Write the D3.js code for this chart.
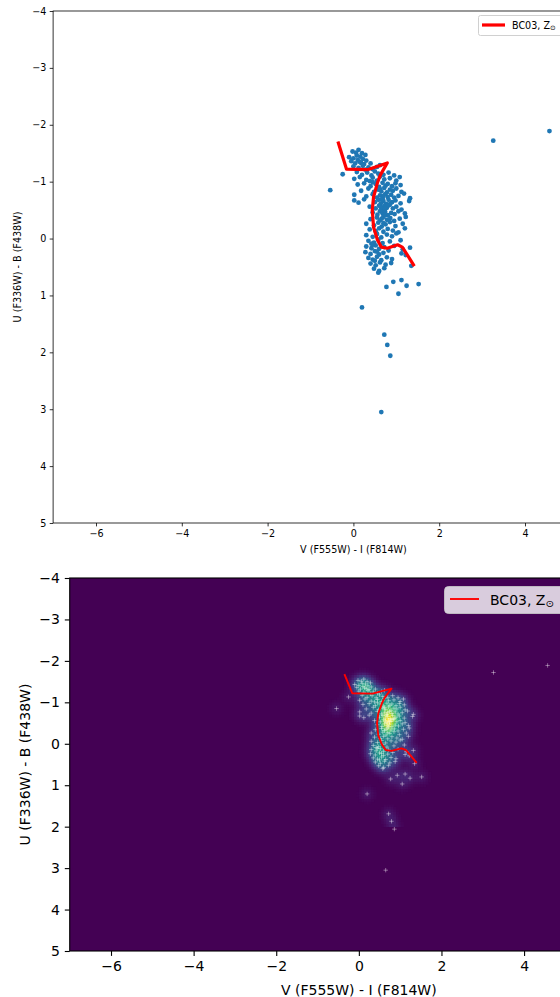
<!DOCTYPE html>
<html>
<head>
<meta charset="utf-8">
<script src="https://cdn.jsdelivr.net/npm/d3@7"></script>
<style>
  body { margin: 0; background: #fff; }
  svg { display: block; font-family: "DejaVu Sans", sans-serif; }
</style>
</head>
<body>
<svg id="chart" width="560" height="997"></svg>
<script>
// Axis ranges and ticks (U-B axis is inverted: blue at top)
const xDomain = [-7, 7];
const yDomain = [-4, 5];
const xTicks = [-6, -4, -2, 0, 2, 4];
const yTicks = [-4, -3, -2, -1, 0, 1, 2, 3, 4, 5];
const xLabel = "V (F555W) - I (F814W)";
const yLabel = "U (F336W) - B (F438W)";

// Star cluster colours: V-I and U-B
const viColour = [
  -0.02, 0.12, 0.20, 0.06,
  -0.10, 0.08, 0.16, 0.28, 0.00, 0.22,
  -0.05, 0.10, 0.18, 0.30, 0.40, 0.25, 0.04, 0.14,
  0.00, 0.12, 0.22, 0.35, 0.45, 0.55, 0.28, 0.62,
  -0.25, 0.08, 0.20, 0.32, 0.42, 0.50, 0.58, 0.70, 0.82, 0.95,
  0.02, 0.15, 0.30, 0.45, 0.55, 0.62, 0.72, 0.85, 1.00, 1.08, 0.38,
  0.10, 0.25, 0.40, 0.52, 0.60, 0.68, 0.75, 0.80, 0.90, 0.98, 1.10, 0.45,
  -0.54, 0.18, 0.35, 0.48, 0.58, 0.65, 0.72, 0.78, 0.85, 0.92, 1.00, 1.12, 0.62,
  0.02, 0.30, 0.45, 0.55, 0.62, 0.68, 0.74, 0.80, 0.88, 0.95, 1.05, 1.18, 1.32, 0.70,
  0.02, 0.12, 0.25, 0.50, 0.58, 0.64, 0.70, 0.76, 0.82, 0.90, 0.98, 1.10, 1.30, 0.66, 0.86,
  0.38, 0.52, 0.60, 0.66, 0.72, 0.78, 0.84, 0.92, 1.00, 1.12, 0.70, 0.80, 0.64, 0.74,
  0.45, 0.56, 0.62, 0.68, 0.74, 0.80, 0.88, 0.96, 1.05, 1.20, 0.72,
  0.40, 0.55, 0.62, 0.70, 0.78, 0.86, 0.95, 1.08, 1.22, 0.66,
  0.30, 0.48, 0.58, 0.66, 0.75, 0.85, 0.98, 1.15, 0.70,
  0.38, 0.52, 0.60, 0.70, 0.80, 0.92, 1.05, 1.20,
  0.30, 0.45, 0.55, 0.65, 0.78, 0.90, 1.00,
  0.35, 0.48, 0.58, 0.68, 0.85, 1.10, 0.42,
  0.30, 0.42, 0.52, 0.60, 0.72, 0.95, 1.15, 1.32, 0.45,
  0.28, 0.40, 0.50, 0.60, 0.70, 0.82, 1.12, 1.22, 0.55,
  0.35, 0.45, 0.55, 0.65, 0.78, 0.90, 0.50,
  0.40, 0.52, 0.62, 0.75, 0.88, 1.35,
  0.48, 0.60, 0.72,
  0.58, 0.77, 0.93, 1.12, 1.24, 1.05, 1.52, 0.20, 0.72, 0.79, 0.86, 0.65, 3.26, 4.57
];
const ubColour = [
  -1.53, -1.56, -1.50, -1.51,
  -1.43, -1.46, -1.44, -1.47, -1.41, -1.40,
  -1.36, -1.38, -1.33, -1.37, -1.32, -1.31, -1.32, -1.35,
  -1.27, -1.24, -1.28, -1.25, -1.22, -1.26, -1.21, -1.29,
  -1.13, -1.17, -1.12, -1.16, -1.11, -1.18, -1.14, -1.12, -1.16, -1.11,
  -1.05, -1.08, -1.03, -1.07, -1.02, -1.09, -1.04, -1.06, -1.02, -1.08, -1.01,
  -0.95, -0.97, -0.92, -0.96, -0.91, -0.98, -0.93, -0.96, -0.92, -0.97, -0.94, -0.99,
  -0.85, -0.84, -0.88, -0.82, -0.86, -0.83, -0.89, -0.81, -0.86, -0.84, -0.88, -0.82, -0.87,
  -0.77, -0.74, -0.78, -0.72, -0.76, -0.71, -0.78, -0.73, -0.77, -0.72, -0.75, -0.79, -0.71, -0.75,
  -0.67, -0.63, -0.69, -0.64, -0.68, -0.62, -0.66, -0.61, -0.68, -0.64, -0.67, -0.62, -0.66, -0.69, -0.61,
  -0.56, -0.53, -0.58, -0.52, -0.57, -0.54, -0.59, -0.53, -0.56, -0.51, -0.50, -0.58, -0.55, -0.53,
  -0.46, -0.42, -0.48, -0.44, -0.47, -0.41, -0.45, -0.43, -0.48, -0.44, -0.41,
  -0.34, -0.37, -0.32, -0.38, -0.33, -0.36, -0.31, -0.35, -0.38, -0.35,
  -0.26, -0.23, -0.28, -0.21, -0.25, -0.29, -0.22, -0.26, -0.27,
  -0.16, -0.13, -0.18, -0.12, -0.17, -0.14, -0.11, -0.18,
  -0.06, -0.03, -0.08, -0.02, -0.07, -0.04, -0.09,
  0.04, 0.07, 0.02, 0.08, 0.05, 0.03, 0.09,
  0.14, 0.17, 0.12, 0.18, 0.15, 0.13, 0.19, 0.16, 0.11,
  0.24, 0.27, 0.22, 0.28, 0.25, 0.21, 0.26, 0.29, 0.23,
  0.34, 0.37, 0.32, 0.38, 0.33, 0.36, 0.39,
  0.44, 0.47, 0.42, 0.46, 0.43, 0.48,
  0.53, 0.57, 0.52,
  0.60, 0.85, 0.76, 0.73, 0.83, 0.97, 0.80, 1.21, 1.69, 1.87, 2.06, 3.05, -1.72, -1.89
];

// BC03 solar-metallicity evolutionary track
const trackVI = [-0.35, -0.16, 0.33, 0.79, 0.63, 0.56, 0.47, 0.44, 0.47, 0.56, 0.65, 0.79, 1.03, 1.14, 1.26, 1.40];
const trackUB = [-1.68, -1.22, -1.21, -1.33, -1.12, -0.98, -0.73, -0.50, -0.20, 0.02, 0.15, 0.17, 0.11, 0.15, 0.29, 0.46];
const legendText = "BC03, Z";
const legendSub = "\u2299";

const clusters = viColour.map((v, i) => ({ vi: v, ub: ubColour[i] }));
const track = trackVI.map((v, i) => ({ vi: v, ub: trackUB[i] }));

const svg = d3.select("#chart");
const fmt = d3.format("d");

function panel(cfg) {
  const xs = d3.scaleLinear().domain(xDomain).range([cfg.left, cfg.right]);
  const ys = d3.scaleLinear().domain(yDomain).range([cfg.top, cfg.bottom]);
  const g = svg.append("g");
  const clipId = "clip" + cfg.id;
  g.append("clipPath").attr("id", clipId).append("rect")
    .attr("x", cfg.left).attr("y", cfg.top)
    .attr("width", cfg.right - cfg.left).attr("height", cfg.bottom - cfg.top);
  const plot = g.append("g").attr("clip-path", `url(#${clipId})`);
  return { xs, ys, g, plot };
}

function axes(p, cfg) {
  const { xs, ys, g } = p;
  const ax = g.append("g").attr("transform", `translate(0,${cfg.bottom})`)
    .call(d3.axisBottom(xs).tickValues(xTicks).tickFormat(fmt)
      .tickSize(cfg.tick).tickPadding(cfg.pad));
  const ay = g.append("g").attr("transform", `translate(${cfg.left},0)`)
    .call(d3.axisLeft(ys).tickValues(yTicks).tickFormat(fmt)
      .tickSize(cfg.tick).tickPadding(cfg.pad));
  [ax, ay].forEach(a => {
    a.select(".domain").remove();
    a.selectAll("line").attr("stroke", "#000").attr("stroke-width", cfg.lw);
    a.selectAll("text").attr("fill", "#000").style("font-size", cfg.font + "px")
      .style("font-family", "DejaVu Sans, sans-serif");
  });
  g.append("rect").attr("x", cfg.left).attr("y", cfg.top)
    .attr("width", cfg.right - cfg.left).attr("height", cfg.bottom - cfg.top)
    .attr("fill", "none").attr("stroke", "#000").attr("stroke-width", cfg.lw);
  g.append("text").attr("x", (cfg.left + cfg.right) / 2).attr("y", cfg.xLabelY)
    .attr("text-anchor", "middle").style("font-size", cfg.font + "px").text(xLabel);
  g.append("text")
    .attr("transform", `translate(${cfg.yLabelX},${(cfg.top + cfg.bottom) / 2}) rotate(-90)`)
    .attr("text-anchor", "middle").style("font-size", cfg.font + "px").text(yLabel);
}

function legend(cfg, lg) {
  const g = svg.append("g");
  g.append("rect").attr("x", lg.x).attr("y", lg.y).attr("width", lg.w).attr("height", lg.h)
    .attr("rx", lg.r).attr("fill", lg.fill).attr("stroke", lg.stroke).attr("stroke-width", 1);
  g.append("line").attr("x1", lg.lx0).attr("x2", lg.lx1).attr("y1", lg.ly).attr("y2", lg.ly)
    .attr("stroke", "red").attr("stroke-width", lg.lw);
  const t = g.append("text").attr("x", lg.tx).attr("y", lg.ty)
    .style("font-size", cfg.font + "px").attr("fill", "#000");
  t.append("tspan").text(legendText);
  t.append("tspan").attr("dy", "0.22em").style("font-size", (cfg.font * 0.7) + "px").text(legendSub);
}

const line = (p) => d3.line().x(d => p.xs(d.vi)).y(d => p.ys(d.ub));

// ---------- Upper panel: scatter + track ----------
const topCfg = { id: "A", left: 53.1, right: 653.7, top: 11, bottom: 523,
  font: 9.6, tick: 3.4, pad: 3.4, lw: 0.8, xLabelY: 553, yLabelX: 21 };
const pA = panel(topCfg);
pA.plot.selectAll("circle").data(clusters).join("circle")
  .attr("cx", d => pA.xs(d.vi)).attr("cy", d => pA.ys(d.ub)).attr("r", 2.4)
  .attr("fill", "#1f77b4");
pA.plot.append("path").datum(track).attr("d", line(pA))
  .attr("fill", "none").attr("stroke", "red").attr("stroke-width", 3.2)
  .attr("stroke-linejoin", "round").attr("stroke-linecap", "square");
axes(pA, topCfg);
legend(topCfg, { x: 478.5, y: 15.5, w: 120, h: 20, r: 2, fill: "#fff", stroke: "#d0d0d0",
  lx0: 482, lx1: 505, ly: 25, lw: 3.2, tx: 512, ty: 29 });

// ---------- Lower panel: kernel density map ----------
const botCfg = { id: "B", left: 69.7, right: 648, top: 578, bottom: 951,
  font: 14, tick: 4.9, pad: 4.9, lw: 1.1, xLabelY: 995, yLabelX: 30 };
const pB = panel(botCfg);
pB.plot.append("rect").attr("x", botCfg.left).attr("y", botCfg.top)
  .attr("width", botCfg.right - botCfg.left).attr("height", botCfg.bottom - botCfg.top)
  .attr("fill", d3.interpolateViridis(0));

// Gaussian KDE evaluated on a regular grid
const bw = 0.11, cell = 0.06;
const gx0 = -1.5, gy0 = -2.5, nx = 70, ny = 75;
const cells = [];
for (let i = 0; i < nx; i++) {
  for (let j = 0; j < ny; j++) {
    const x0 = gx0 + i * cell, y0 = gy0 + j * cell;
    const cx = x0 + cell / 2, cy = y0 + cell / 2;
    let s = 0;
    for (const c of clusters) {
      const dx = (cx - c.vi) / bw, dy = (cy - c.ub) / bw;
      s += Math.exp(-0.5 * (dx * dx + dy * dy));
    }
    cells.push({ x0, y0, s });
  }
}
const sMax = d3.max(cells, d => d.s);
const colour = d3.scaleSequential(d3.interpolateViridis).domain([0, sMax]);
pB.plot.append("g").selectAll("rect").data(cells.filter(d => d.s / sMax > 0.006)).join("rect")
  .attr("x", d => pB.xs(d.x0)).attr("y", d => pB.ys(d.y0))
  .attr("width", d => pB.xs(d.x0 + cell) - pB.xs(d.x0) + 0.4)
  .attr("height", d => pB.ys(d.y0 + cell) - pB.ys(d.y0) + 0.4)
  .attr("fill", d => colour(d.s));

// cluster positions as plus markers
const arm = 2.2;
pB.plot.append("g").selectAll("path").data(clusters).join("path")
  .attr("d", d => {
    const x = pB.xs(d.vi), y = pB.ys(d.ub);
    return `M${x - arm},${y}H${x + arm}M${x},${y - arm}V${y + arm}`;
  })
  .attr("stroke", "#fff").attr("stroke-opacity", 0.4).attr("stroke-width", 1);

pB.plot.append("path").datum(track).attr("d", line(pB))
  .attr("fill", "none").attr("stroke", "red").attr("stroke-width", 1.9)
  .attr("stroke-linejoin", "round");
axes(pB, botCfg);
legend(botCfg, { x: 444.5, y: 586.5, w: 160, h: 27, r: 4, fill: "rgba(255,255,255,0.8)",
  stroke: "rgba(204,204,204,0.8)", lx0: 450, lx1: 479, ly: 599, lw: 1.9, tx: 490, ty: 605 });
</script>
</body>
</html>
